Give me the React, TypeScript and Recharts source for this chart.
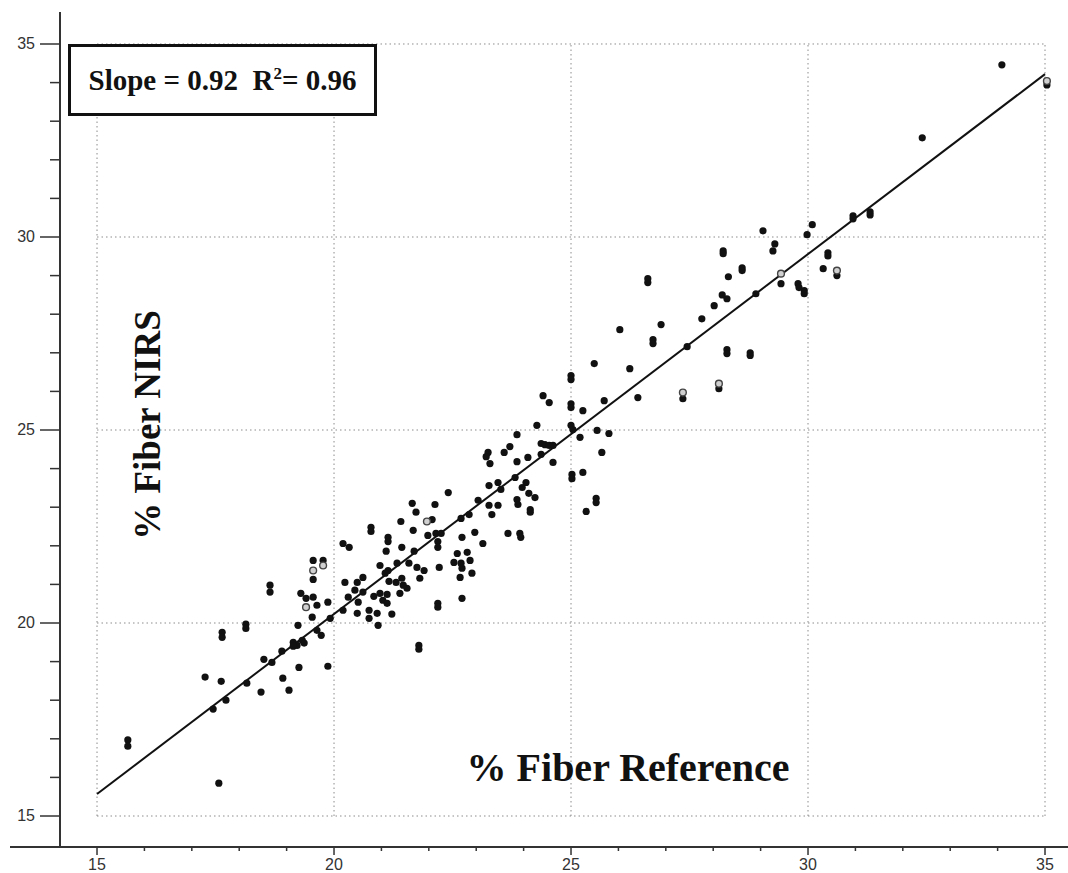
import React from "react";
import {
  ScatterChart,
  Scatter,
  XAxis,
  YAxis,
  ReferenceLine,
} from "recharts";

// % fiber by reference method (x) vs predicted by NIRS (y)
const refFiber = [
  15.65, 15.65, 17.57, 17.28, 17.62, 18.16, 18.46, 17.72, 17.45, 17.64, 17.64, 18.14, 18.14,
  18.65, 18.65, 18.52, 18.69, 18.92, 19.05, 18.9, 19.14, 19.22, 19.33, 19.37, 19.14, 19.24,
  19.26, 19.56, 19.56, 19.77, 19.3, 19.41, 19.56, 19.64, 19.87, 19.54, 19.92, 19.64, 19.73,
  19.87, 20.19, 20.49, 20.74, 20.91, 21.22, 20.74, 20.93, 20.44, 20.61, 20.3, 20.51, 20.84,
  20.97, 21.12, 21.03, 21.12, 21.39, 21.54, 20.23, 20.49, 20.61, 21.16, 21.31, 21.43, 21.46,
  21.81, 20.97, 21.14, 21.08, 21.33, 21.58, 21.75, 21.9, 20.19, 20.32, 21.1, 21.43, 21.69,
  20.78, 20.78, 21.41, 22.07, 21.14, 21.14, 21.67, 21.65, 21.73, 22.13, 22.41, 21.98, 22.15,
  22.26, 22.19, 22.19, 22.7, 22.97, 22.6, 22.81, 22.53, 22.68, 22.87, 22.7, 22.91, 22.66,
  22.22, 22.19, 22.19, 22.7, 21.79, 21.79, 22.68, 22.85, 23.04, 23.14, 23.67, 23.92, 23.94,
  23.25, 23.21, 23.29, 23.27, 23.46, 23.52, 23.46, 23.27, 23.33, 23.59, 23.71, 23.86, 23.86,
  24.09, 23.82, 24.05, 23.97, 24.11, 24.24, 23.86, 23.88, 24.14, 24.14, 24.28, 24.37, 24.62,
  24.37, 24.45, 24.54, 24.62, 24.41, 24.54, 25.0, 25.0, 25.0, 25.0, 25.0, 25.04, 25.19,
  25.25, 25.02, 25.02, 25.25, 25.49, 25.55, 25.53, 25.53, 25.32, 25.7, 25.8, 25.65, 26.03,
  26.24, 26.41, 26.73, 26.73, 26.9, 26.62, 26.62, 27.36, 27.45, 27.76, 28.02, 28.19, 28.29,
  28.21, 28.21, 28.32, 28.29, 28.29, 28.12, 28.61, 28.61, 28.78, 28.78, 28.9, 29.05, 29.3,
  29.26, 29.43, 29.79, 29.81, 29.92, 29.92, 29.98, 30.09, 30.32, 30.42, 30.42, 30.61, 30.95,
  30.95, 31.31, 31.31, 32.41, 34.09, 35.04,
];

const nirsFiber = [
  16.97, 16.81, 15.85, 18.6, 18.49, 18.44, 18.21, 18.0, 17.77, 19.76, 19.63, 19.97, 19.86,
  20.98, 20.8, 19.06, 18.98, 18.57, 18.26, 19.27, 19.5, 19.42, 19.55, 19.48, 19.4, 19.94,
  18.85, 21.62, 21.13, 21.62, 20.77, 20.64, 20.67, 20.46, 20.54, 20.15, 20.12, 19.81, 19.68,
  18.88, 20.33, 20.25, 20.33, 20.25, 20.23, 20.12, 19.94, 20.85, 20.8, 20.67, 20.54, 20.69,
  20.77, 20.74, 20.59, 20.51, 20.77, 20.9, 21.05, 21.05, 21.18, 21.08, 21.05, 21.16, 20.98,
  21.16, 21.49, 21.36, 21.29, 21.55, 21.55, 21.44, 21.36, 22.06, 21.96, 21.86, 21.96, 21.86,
  22.48, 22.37, 22.63, 22.68, 22.22, 22.11, 22.4, 23.1, 22.87, 23.07, 23.38, 22.27, 22.32,
  22.32, 22.11, 21.96, 22.22, 22.35, 21.8, 21.83, 21.57, 21.55, 21.62, 21.42, 21.29, 21.18,
  21.44, 20.51, 20.41, 20.64, 19.42, 19.32, 22.71, 22.81, 23.18, 22.06, 22.32, 22.32, 22.22,
  24.42, 24.31, 24.13, 23.56, 23.64, 23.46, 23.05, 23.05, 22.81, 24.42, 24.57, 24.88, 24.18,
  24.29, 23.77, 23.64, 23.51, 23.36, 23.25, 23.2, 23.07, 22.94, 22.87, 25.12, 24.37, 24.16,
  24.65, 24.62, 24.6, 24.6, 25.89, 25.71, 26.41, 26.31, 25.68, 25.58, 25.12, 25.01, 24.81,
  25.5, 23.85, 23.74, 23.9, 26.72, 24.99, 23.23, 23.12, 22.89, 25.76, 24.91, 24.42, 27.6,
  26.59, 25.84, 27.34, 27.24, 27.73, 28.92, 28.82, 25.81, 27.16, 27.88, 28.22, 28.5, 28.4,
  29.64, 29.57, 28.97, 27.08, 26.98, 26.07, 29.2, 29.13, 27.0, 26.93, 28.53, 30.16, 29.82,
  29.64, 28.79, 28.79, 28.69, 28.61, 28.53, 30.06, 30.32, 29.18, 29.59, 29.51, 29.0, 30.55,
  30.47, 30.65, 30.57, 32.57, 34.46, 33.94,
];

// samples drawn as grey rings in the original
const ringRef = [19.56, 19.77, 19.41, 21.96, 27.36, 28.12, 29.43, 30.61, 35.04];
const ringNirs = [21.36, 21.49, 20.41, 22.63, 25.97, 26.2, 29.05, 29.13, 34.04];

// regression line end points
const fitRef = [15, 35];
const fitNirs = [15.57, 34.22];

const unitTicks = [
  15, 16, 17, 18, 19, 20, 21, 22, 23, 24, 25, 26, 27, 28, 29, 30, 31, 32, 33, 34, 35,
];
const labelTicks = [15, 20, 25, 30, 35];

const points = refFiber.map((x, i) => ({ x, y: nirsFiber[i] }));
const rings = ringRef.map((x, i) => ({ x, y: ringNirs[i] }));

const AXIS = "#333";
const GRID = "#8c8c8c";
const Y_AXIS_WIDTH = 60;
const tickFont = "'Liberation Sans', Arial, sans-serif";
const serif = "'Liberation Serif', 'Times New Roman', serif";

// eslint-disable-next-line @typescript-eslint/no-explicit-any
const YTick = (props: any) => {
  const { y, payload } = props;
  const x = Y_AXIS_WIDTH;
  const major = labelTicks.includes(payload.value);
  return (
    <g>
      <line x1={x - (major ? 20 : 10)} x2={x} y1={y} y2={y} stroke={AXIS} strokeWidth={1.5} />
      {major && (
        <text x={x - 25} y={y} dy={5} textAnchor="end" fontSize={16} fill="#333" fontFamily={tickFont}>
          {payload.value}
        </text>
      )}
    </g>
  );
};

// eslint-disable-next-line @typescript-eslint/no-explicit-any
const XTick = (props: any) => {
  const { x, y, payload } = props;
  const major = labelTicks.includes(payload.value);
  return (
    <g>
      <line x1={x} x2={x} y1={y} y2={y + (major ? 8 : 4)} stroke={AXIS} strokeWidth={1.5} />
      {major && (
        <text x={x} y={y + 23} textAnchor="middle" fontSize={16} fill="#333" fontFamily={tickFont}>
          {payload.value}
        </text>
      )}
    </g>
  );
};

// eslint-disable-next-line @typescript-eslint/no-explicit-any
const Dot = (p: any) => <circle cx={p.cx} cy={p.cy} r={3.6} fill="#111" />;
// eslint-disable-next-line @typescript-eslint/no-explicit-any
const Ring = (p: any) => (
  <circle cx={p.cx} cy={p.cy} r={3.4} fill="#d0d0d0" stroke="#444" strokeWidth={1.4} />
);

export default function App() {
  return (
    <div
      style={{
        position: "absolute",
        left: 0,
        top: 0,
        width: 1068,
        height: 873,
        background: "#fff",
        overflow: "hidden",
      }}>
      <ScatterChart width={1068} height={873} margin={{ top: 12, right: 0, bottom: 0, left: 0 }}>
        <XAxis
          type="number"
          dataKey="x"
          domain={[14.219, 35.485]}
          ticks={unitTicks}
          interval={0}
          allowDataOverflow
          height={26}
          tickSize={0}
          tickMargin={0}
          tick={XTick}
          axisLine={{ stroke: AXIS, strokeWidth: 2 }}
        />
        <YAxis
          type="number"
          dataKey="y"
          domain={[14.197, 35.829]}
          ticks={unitTicks}
          interval={0}
          allowDataOverflow
          width={Y_AXIS_WIDTH}
          tickSize={0}
          tickMargin={0}
          tick={YTick}
          axisLine={{ stroke: AXIS, strokeWidth: 2 }}
        />
        {labelTicks.map((g) => (
          <ReferenceLine
            key={"v" + g}
            segment={[
              { x: g, y: labelTicks[0] },
              { x: g, y: labelTicks[labelTicks.length - 1] },
            ]}
            stroke={GRID}
            strokeDasharray="1.5 3"
          />
        ))}
        {labelTicks.map((g) => (
          <ReferenceLine
            key={"h" + g}
            segment={[
              { x: labelTicks[0], y: g },
              { x: labelTicks[labelTicks.length - 1], y: g },
            ]}
            stroke={GRID}
            strokeDasharray="1.5 3"
          />
        ))}
        <ReferenceLine
          segment={[
            { x: fitRef[0], y: fitNirs[0] },
            { x: fitRef[1], y: fitNirs[1] },
          ]}
          stroke="#111"
          strokeWidth={2}
        />
        <Scatter data={points} shape={Dot} isAnimationActive={false} />
        <Scatter data={rings} shape={Ring} isAnimationActive={false} />
      </ScatterChart>

      {/* x axis stub left of the y axis */}
      <div style={{ position: "absolute", left: 10, top: 846, width: 50, height: 2, background: AXIS }} />

      <div
        style={{
          position: "absolute",
          left: 68,
          top: 44,
          width: 309,
          height: 72,
          boxSizing: "border-box",
          border: "3px solid #111",
          background: "#fff",
          display: "flex",
          alignItems: "center",
          justifyContent: "center",
          fontFamily: serif,
          fontWeight: "bold",
          fontSize: 29,
          color: "#111",
          whiteSpace: "pre",
        }}>
        <span>
          Slope = 0.92{"  "}R
          <span style={{ fontSize: 17, position: "relative", top: -11 }}>2</span>= 0.96
        </span>
      </div>

      <div
        style={{
          position: "absolute",
          left: 147,
          top: 425,
          transform: "translate(-50%, -50%) rotate(-90deg)",
          fontFamily: serif,
          fontWeight: "bold",
          fontSize: 37,
          color: "#111",
          whiteSpace: "nowrap",
          lineHeight: 1,
        }}>
        % Fiber NIRS
      </div>

      <div
        style={{
          position: "absolute",
          left: 628,
          top: 768,
          transform: "translate(-50%, -50%)",
          fontFamily: serif,
          fontWeight: "bold",
          fontSize: 40,
          color: "#111",
          whiteSpace: "nowrap",
          lineHeight: 1,
        }}>
        % Fiber Reference
      </div>
    </div>
  );
}
